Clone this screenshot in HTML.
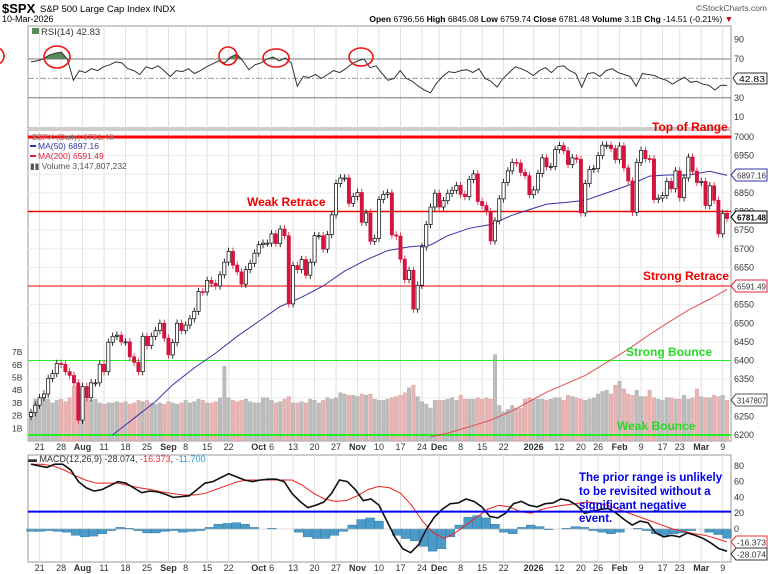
<!DOCTYPE html>
<html><head><meta charset="utf-8"><style>
html,body{margin:0;padding:0;background:#fff;width:768px;height:574px;overflow:hidden;font-family:"Liberation Sans",sans-serif}
svg{display:block}
</style></head><body>
<svg id="c" width="768" height="574" viewBox="0 0 768 574" xmlns="http://www.w3.org/2000/svg" font-family="Liberation Sans, sans-serif">
<text x="2" y="13" font-size="13" font-weight="bold">$SPX</text>
<text x="40" y="12" font-size="9.5">S&amp;P 500 Large Cap Index INDX</text>
<text x="2" y="22" font-size="9">10-Mar-2026</text>
<text x="767" y="11" font-size="8.5" fill="#555" text-anchor="end">©StockCharts.com</text>
<text x="733" y="22" font-size="8.5" text-anchor="end"><tspan font-weight="bold">Open</tspan> 6796.56 <tspan font-weight="bold">High</tspan> 6845.08 <tspan font-weight="bold">Low</tspan> 6759.74 <tspan font-weight="bold">Close</tspan> 6781.48 <tspan font-weight="bold">Volume</tspan> 3.1B <tspan font-weight="bold">Chg</tspan> -14.51 (-0.21%) <tspan fill="#c00">▼</tspan></text>
<g id="grid"></g>
<g id="marks"></g>
<g id="over"></g>
</svg>
<script>
const closes=[6260,6280,6300,6310,6352,6365,6392,6390,6370,6360,6340,6240,6330,6300,6340,6340,6390,6370,6449,6465,6468,6450,6450,6410,6395,6370,6465,6440,6465,6480,6500,6460,6415,6448,6500,6480,6495,6512,6532,6585,6584,6615,6607,6600,6630,6664,6693,6656,6638,6605,6644,6661,6688,6711,6715,6715,6740,6714,6753,6735,6552,6655,6644,6671,6629,6664,6735,6735,6699,6738,6791,6875,6890,6890,6822,6840,6851,6771,6796,6720,6728,6832,6846,6850,6737,6734,6672,6617,6642,6538,6602,6705,6765,6812,6849,6812,6829,6849,6857,6870,6846,6840,6886,6901,6827,6816,6800,6721,6775,6834,6878,6909,6932,6930,6905,6896,6845,6858,6902,6944,6920,6921,6966,6977,6963,6926,6944,6940,6796,6875,6913,6915,6950,6978,6978,6969,6939,6976,6917,6882,6798,6932,6964,6942,6941,6832,6836,6843,6881,6861,6909,6837,6890,6946,6908,6878,6881,6816,6869,6830,6740,6795,6781];
const volumes=[2.3,3.3,3.2,3.4,3.3,3.0,3.2,3.3,3.1,3.4,4.3,3.8,3.0,3.3,3.2,3.3,3.0,2.9,3.0,3.0,3.1,3.0,3.1,2.9,3.0,3.2,3.1,3.2,3.0,2.9,3.0,2.9,3.1,3.0,2.9,3.0,3.2,3.0,3.1,3.3,3.2,3.0,3.0,3.1,3.4,5.9,3.4,3.2,3.1,3.2,3.3,3.1,3.0,3.0,3.4,3.4,3.2,3.0,3.1,3.3,3.5,3.0,3.0,3.1,3.0,3.3,3.2,3.0,3.2,3.4,3.3,3.4,3.8,3.7,3.6,3.6,3.5,3.7,3.6,3.7,3.3,3.2,3.2,3.3,3.4,3.5,3.6,3.8,4.2,4.4,3.5,3.1,2.9,2.6,3.2,3.2,3.2,3.3,3.4,3.2,3.6,3.3,3.3,3.3,3.4,3.3,3.4,3.3,6.8,2.8,2.3,2.5,2.8,2.6,2.6,3.3,3.4,3.3,3.3,3.3,3.2,3.3,3.4,3.4,3.2,3.6,3.5,3.4,3.3,3.2,3.3,3.4,3.7,3.9,4.0,3.7,4.4,4.7,4.1,3.7,3.6,4.0,3.5,3.5,4.0,3.4,3.3,3.2,3.4,3.4,3.3,3.3,3.6,3.3,3.4,4.1,3.5,3.4,3.4,3.6,3.5,3.6,3.2];
const ma50Dates=["2025-08-13","2025-08-20","2025-08-27","2025-09-03","2025-09-10","2025-09-17","2025-09-24","2025-10-01","2025-10-08","2025-10-15","2025-10-22","2025-10-29","2025-11-05","2025-11-12","2025-11-19","2025-11-26","2025-12-03","2025-12-10","2025-12-17","2025-12-24","2025-12-31","2026-01-07","2026-01-14","2026-01-21","2026-01-28","2026-02-04","2026-02-11","2026-02-18","2026-02-25","2026-03-04","2026-03-10"];
const ma50=[6200,6245,6290,6335,6380,6420,6465,6505,6545,6570,6600,6640,6670,6695,6705,6710,6735,6755,6765,6790,6805,6820,6825,6830,6850,6870,6895,6898,6898,6908,6897];
const ma200Dates=["2025-11-26","2025-12-03","2025-12-10","2025-12-17","2025-12-24","2025-12-31","2026-01-07","2026-01-14","2026-01-21","2026-01-28","2026-02-04","2026-02-11","2026-02-18","2026-02-25","2026-03-04","2026-03-10"];
const ma200=[6195,6205,6222,6240,6265,6290,6315,6340,6360,6395,6430,6470,6500,6535,6565,6591];
const rsi=[67,68,70,74,76,77,70,48,58,56,60,58,62,64,67,66,60,58,54,62,60,63,58,52,58,57,60,55,58,62,65,68,66,72,75,68,59,64,66,70,72,68,71,66,42,52,51,54,50,54,58,56,60,65,68,70,61,63,55,48,50,58,50,47,42,38,35,45,52,57,56,58,59,56,60,50,47,41,50,56,62,60,57,53,58,61,56,62,63,58,55,41,55,56,52,58,60,56,54,52,42,55,54,53,50,48,44,48,51,46,47,44,43,38,43,42.83];
const macd=[82,80,78,82,82,75,60,52,48,50,55,60,58,52,46,48,47,44,40,41,42,50,58,60,65,70,66,62,60,62,63,63,60,45,35,27,30,34,45,62,60,50,36,38,30,10,-10,-25,-30,-20,0,15,25,32,33,38,35,28,16,14,20,32,35,30,28,32,33,38,36,30,20,22,25,26,20,12,5,10,8,-5,-10,-8,-10,-5,-8,-12,-18,-25,-28.074];
const signal=[82,82,80,75,68,62,58,58,58,55,52,50,47,45,43,43,45,50,55,60,62,62,62,62,62,55,45,38,35,36,42,50,54,52,45,30,10,-5,-12,-5,5,15,25,30,28,22,20,25,28,30,32,34,33,30,25,20,15,10,5,0,-3,-6,-8,-12,-16.373];
const hist=[-3,-3,-2,-3,-4,-8,-10,-9,-6,-2,2,1,-2,-5,-5,-3,-2,-4,-3,-2,2,6,7,8,6,2,0,1,0,0,-4,-10,-12,-12,-8,-3,5,12,14,10,0,-8,-12,-15,-22,-28,-25,-10,5,15,17,14,6,-4,-6,2,5,3,-1,0,1,3,2,-2,-4,-6,-4,0,1,-2,-6,-8,-6,-5,-2,0,-4,-7,-11.7];
const tickDates=["2025-07-21","2025-07-28","2025-08-04","2025-08-11","2025-08-18","2025-08-25","2025-09-02","2025-09-08","2025-09-15","2025-09-22","2025-10-01","2025-10-06","2025-10-13","2025-10-20","2025-10-27","2025-11-03","2025-11-10","2025-11-17","2025-11-24","2025-12-01","2025-12-08","2025-12-15","2025-12-22","2026-01-02","2026-01-12","2026-01-20","2026-01-26","2026-02-02","2026-02-09","2026-02-17","2026-02-23","2026-03-02","2026-03-09"];
const tickLabels=["21","28","Aug","11","18","25","Sep","8","15","22","Oct","6","13","20","27","Nov","10","17","24","Dec","8","15","22","2026","12","20","26","Feb","9","17","23","Mar","9"];
const priceTicks=[6200,6250,6300,6350,6400,6450,6500,6550,6600,6650,6700,6750,6800,6850,6900,6950,7000];
const rsiTicks=[10,30,50,70,90];
const macdTicks=[0,20,40,60,80];
const volTicks=[1,2,3,4,5,6,7];

const NS="http://www.w3.org/2000/svg";
function mk(tag,attrs,parent,txt){const e=document.createElementNS(NS,tag);for(const k in attrs)e.setAttribute(k,attrs[k]);if(txt!==undefined)e.textContent=txt;parent.appendChild(e);return e;}
const G=document.getElementById('grid'),M=document.getElementById('marks'),O=document.getElementById('over');
const hol=["2025-09-01","2025-11-27","2025-12-25","2026-01-01","2026-01-19","2026-02-16"];
const dates=[];{let d=new Date(Date.UTC(2025,6,17));while(dates.length<closes.length){const s=d.toISOString().slice(0,10);const w=d.getUTCDay();if(w>0&&w<6&&hol.indexOf(s)<0)dates.push(s);d=new Date(d.getTime()+864e5);}}
function idxOf(s){let i=dates.indexOf(s);if(i>=0)return i;for(i=0;i<dates.length;i++)if(dates[i]>s)return i;return dates.length-1;}
const L=28,R=731,X0=31,X1=727,n=closes.length,step=(X1-X0)/(n-1);
const xI=i=>X0+i*step;
const yP=p=>137+(7000-p)*(298/800);
const yV=v=>441-v*12.7;
const yR=v=>59+(70-v)*0.97;
const yM=v=>529-v*0.79;
const pT=130,pB=441,rT=26,rB=128,mT=455,mB=562;
[[rT,rB,'rsi-panel'],[pT,pB,'price-panel'],[mT,mB,'macd-panel']].forEach(([t,b,nm])=>{
 const r=mk('rect',{x:L,y:t,width:R-L,height:b-t,fill:'#fff',stroke:'#999','stroke-width':1},G);
 
 tickDates.forEach(td=>{const x=xI(idxOf(td));mk('line',{x1:x,x2:x,y1:t,y2:b,stroke:'#e0e0e0'},G);});
});
priceTicks.forEach(p=>{const y=yP(p);mk('line',{x1:L,x2:R,y1:y,y2:y,stroke:'#ececec'},G);
 const t=mk('text',{x:734,y:y+3,'font-size':9,fill:'#333'},G,p);});
volTicks.forEach(v=>{const t=mk('text',{x:12,y:yV(v)+3,'font-size':8.5,fill:'#333'},G,v+'B');});
rsiTicks.forEach(v=>{const y=yR(v);const t=mk('text',{x:734,y:y+3,'font-size':9,fill:'#333'},G,v);});
macdTicks.forEach(v=>{const y=yM(v);const t=mk('text',{x:734,y:y+3,'font-size':9,fill:'#333'},G,v);});
[450,571].forEach(yy=>{tickDates.forEach((td,k)=>{const x=xI(idxOf(td));const bold=isNaN(+tickLabels[k])||tickLabels[k]==='2026';
 const t=mk('text',{x:x,y:yy,'font-size':9,'text-anchor':'middle','font-weight':bold?'bold':'normal',fill:'#333'},G,tickLabels[k]);
 });});
mk('line',{x1:L,x2:R,y1:yR(70),y2:yR(70),stroke:'#777'},G);mk('line',{x1:L,x2:R,y1:yR(30),y2:yR(30),stroke:'#777'},G);
mk('line',{x1:L,x2:R,y1:yR(50),y2:yR(50),stroke:'#999','stroke-dasharray':'6,2,2,2'},G);
const bw=Math.max(1,step-0.8);
volumes.forEach((v,i)=>{if(i>=n)return;const down=i>0&&closes[i]<closes[i-1];const y=yV(v);
 const b=mk('rect',{x:xI(i)-bw/2,y:y,width:bw,height:441-y,fill:down?'#e8b4b4':'#bdbdbd',stroke:down?'#d89a9a':'#a8a8a8','stroke-width':0.4},M);
 });
[[7000,'#ff0000',3,'top-of-range-line'],[6800,'#ee0000',1.5,'weak-retrace-line'],[6600,'#ee0000',1,'strong-retrace-line'],[6400,'#22ee22',1,'strong-bounce-line'],[6200,'#22ee22',2,'weak-bounce-line']].forEach(([p,c,w,nm])=>{
 const l=mk('line',{x1:L,x2:R,y1:yP(p),y2:yP(p),stroke:c,'stroke-width':w},M);});
function maPath(ds,vs,col,nm){const pts=ds.map((d,k)=>xI(idxOf(d)).toFixed(1)+','+yP(vs[k]).toFixed(1)).join(' ');
 const p=mk('polyline',{points:pts,fill:'none',stroke:col,'stroke-width':1},M);}
maPath(ma50Dates,ma50,'#3333aa','ma50-line');maPath(ma200Dates,ma200,'#e05050','ma200-line');
closes.forEach((c,i)=>{const o=i>0?closes[i-1]:6250;const up=c>=o;const col=up?'#000':'#d4143c';
 const hi=Math.max(o,c)+10,lo=Math.min(o,c)-10;const x=xI(i);
 const w=mk('line',{x1:x,x2:x,y1:yP(hi),y2:yP(lo),stroke:col,'stroke-width':0.8},M);
 const top=yP(Math.max(o,c)),h=Math.max(1,yP(Math.min(o,c))-top);
 const b=mk('rect',{x:x-1.6,y:top,width:3.2,height:h,fill:up?'#fff':col,stroke:col,'stroke-width':0.7},M);});
function even(arr,fy){const s=(X1-X0)/(arr.length-1);return arr.map((v,k)=>[X0+k*s,fy(v)]);}
const rp=even(rsi,yR);
let fillPts=rp.map(p=>p[0].toFixed(1)+','+Math.min(p[1],yR(70)).toFixed(1)).join(' ');
mk('polygon',{points:X0+','+yR(70)+' '+fillPts+' '+X1+','+yR(70),fill:'#5a8a5a'},M);
const rl=mk('polyline',{points:rp.map(p=>p[0].toFixed(1)+','+p[1].toFixed(1)).join(' '),fill:'none',stroke:'#333','stroke-width':1},M);

const hs=(X1-X0)/(hist.length-1);
hist.forEach((v,k)=>{const x=X0+k*hs,y0=yM(0),y=yM(v);
 const b=mk('rect',{x:x-hs/2,y:Math.min(y,y0),width:hs,height:Math.abs(y-y0),fill:'#4a9bc8',stroke:'#2a6f98','stroke-width':0.4},M);
 });
mk('line',{x1:L,x2:R,y1:yM(0),y2:yM(0),stroke:'#bbb','stroke-width':0.6},M);
const sl=mk('polyline',{points:even(signal,yM).map(p=>p.join(',')).join(' '),fill:'none',stroke:'#ee2222','stroke-width':1},M);

const ml=mk('polyline',{points:even(macd,yM).map(p=>p.join(',')).join(' '),fill:'none',stroke:'#111','stroke-width':1.6},M);

const bl=mk('line',{x1:L,x2:R,y1:yM(22),y2:yM(22),stroke:'#0000ee','stroke-width':2},M);
</script>
<script>
const Ov=document.getElementById('over');
Ov.innerHTML=`
<g><rect x="32" y="28" width="7" height="6" fill="#5a8a5a"/><text x="41" y="35" font-size="9.5" fill="#333">RSI(14) 42.83</text></g>
<g font-size="8.5">
<text x="32" y="140" fill="#888">$SPX (Daily) 6781.48</text>
<line x1="30" y1="146" x2="36" y2="146" stroke="#3333aa" stroke-width="2"/><text x="38" y="149" fill="#3333aa">MA(50) 6897.16</text>
<line x1="30" y1="156" x2="36" y2="156" stroke="#e02040" stroke-width="2"/><text x="38" y="159" fill="#e02040">MA(200) 6591.49</text>
<text x="30" y="169" fill="#555">▮▮ Volume 3,147,807,232</text></g>
<text x="28" y="462" font-size="9" fill="#333">▬ MACD(12,26,9) -28.074, <tspan fill="#e33">-16.373</tspan>, <tspan fill="#39d">-11.700</tspan></text>
<g font-weight="bold" font-size="12">
<text x="652" y="131" fill="#ee0000">Top of Range</text>
<text x="247" y="206" fill="#ee0000">Weak Retrace</text>
<text x="643" y="280" fill="#ee0000">Strong Retrace</text>
<text x="626" y="356" fill="#22dd22">Strong Bounce</text>
<text x="617" y="430" fill="#22dd22">Weak Bounce</text></g>
<text font-weight="bold" font-size="11.5" fill="#0000ee"><tspan x="579" y="481">The prior range is unlikely</tspan><tspan x="579" y="495">to be revisited without a</tspan><tspan x="579" y="509">significant negative</tspan><tspan x="579" y="522">event.</tspan></text>
<g fill="none" stroke="#ee1111" stroke-width="1.6">
<ellipse cx="-3" cy="56" rx="7" ry="8"/><ellipse cx="57" cy="57" rx="13" ry="11"/><ellipse cx="228" cy="56" rx="9" ry="9"/><ellipse cx="276" cy="58" rx="13" ry="9"/><ellipse cx="361" cy="57" rx="12" ry="9"/></g>
<g font-size="8.5">
<path d="M733,78 L737,73 H767 V84 H737 Z" fill="#fff" stroke="#333"/><text x="739" y="82" textLength="26" lengthAdjust="spacingAndGlyphs">42.83</text>
<path d="M731,175 L736,169 H767 V181 H736 Z" fill="#fff" stroke="#3333aa"/><text x="737" y="178.5" fill="#333" textLength="29" lengthAdjust="spacingAndGlyphs">6897.16</text>
<path d="M731,217 L736,211 H767 V223 H736 Z" fill="#fff" stroke="#000"/><text x="737" y="220.5" font-weight="bold" textLength="29" lengthAdjust="spacingAndGlyphs">6781.48</text>
<path d="M731,286 L736,280 H767 V292 H736 Z" fill="#fff" stroke="#e02040"/><text x="737" y="289.5" fill="#333" textLength="29" lengthAdjust="spacingAndGlyphs">6591.49</text>
<path d="M731,400 L736,394 H767 V406 H736 Z" fill="#fff" stroke="#555"/><text x="737" y="403.5" fill="#333" textLength="29" lengthAdjust="spacingAndGlyphs">3147807</text>
<path d="M731,542 L736,536 H767 V548 H736 Z" fill="#fff" stroke="#e33"/><text x="737" y="545.5" fill="#333" textLength="29" lengthAdjust="spacingAndGlyphs">-16.373</text>
<path d="M731,554 L736,548 H767 V560 H736 Z" fill="#fff" stroke="#333"/><text x="737" y="557.5" fill="#333" textLength="29" lengthAdjust="spacingAndGlyphs">-28.074</text></g>`;
</script>
</body></html>
